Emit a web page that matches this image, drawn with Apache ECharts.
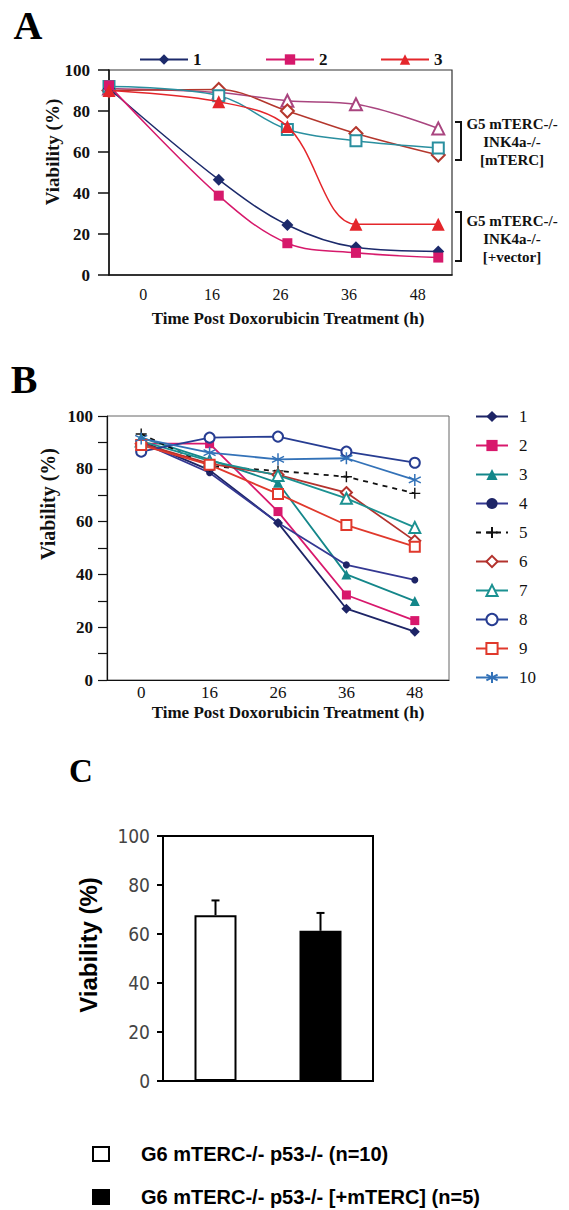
<!DOCTYPE html>
<html><head><meta charset="utf-8">
<script src="https://cdn.jsdelivr.net/npm/echarts@6/dist/echarts.min.js"></script>
<style>html,body{margin:0;padding:0;background:#fff}#c{width:569px;height:1210px}</style>
</head><body><div id="c"></div>
<script>
// ---------- data ----------
const timeLabels = ['0', '16', '26', '36', '48'];
const timeHours = [0, 16, 26, 36, 48];

// Panel A (G5 mTERC-/- INK4a-/-)
const a1 = [91, 46.5, 24.4, 13.5, 11.5];     // +vector, filled diamond
const a2 = [92.5, 38.7, 15.5, 10.8, 8.5];    // +vector, filled square
const a3 = [90, 84.5, 72.5, 24.8, 24.8];     // +vector, filled triangle
const a4 = [91, 89, 85, 83.3, 71.5];         // [mTERC], open triangle
const a5 = [90, 90.5, 80, 69, 58.5];         // [mTERC], open diamond
const a6 = [92, 87.5, 71, 65.5, 62];         // [mTERC], open square

// Panel B
const b1 = [90.5, 79.5, 59.5, 27, 18.3];
const b2 = [89.5, 89.5, 63.8, 32.2, 22.5];
const b3 = [91.8, 83.5, 74.7, 40, 29.9];
const b4 = [90, 78.5, 59.6, 43.6, 37.9];
const b5 = [93.2, 81, 79.2, 77, 70.7];
const b6 = [89.5, 82, 77.7, 71, 52.7];
const b7 = [90.5, 83, 77.5, 68.8, 57.8];
const b8 = [86.5, 91.8, 92.2, 86.5, 82.3];
const b9 = [89, 81.5, 70.5, 58.7, 50.5];
const b10 = [91.5, 86.1, 83.6, 84, 75.8];

// Panel C
const cCategories = ['G6 mTERC-/- p53-/- (n=10)', 'G6 mTERC-/- p53-/- [+mTERC] (n=5)'];
const cMeans = [67.7, 61.3];
const cErrors = [6.0, 7.3];

// ---------- styling ----------
const SERIF = "'Liberation Serif','Times New Roman',serif";
const SANS = "'Liberation Sans',Arial,sans-serif";
const PLUS = 'path://M0,5L10,5M5,0L5,10';
const STAR = 'path://M5,0L5,10M0.7,2.5L9.3,7.5M0.7,7.5L9.3,2.5';

function pairs(vals) { return vals.map((v, i) => [timeHours[i], v]); }

function aLine(name, vals, color, symbol, size, hollow) {
  return {
    name, type: 'line', xAxisIndex: 1, yAxisIndex: 0, data: pairs(vals),
    smooth: 0.35, symbol, symbolSize: size, showSymbol: true,
    lineStyle: { color, width: 1.5 },
    itemStyle: hollow ? { color, borderColor: color, borderWidth: 1.3 } : { color, borderColor: color, borderWidth: 0 },
    emphasis: { disabled: true }, z: hollow ? 3 : 4
  };
}
function bLine(name, vals, color, symbol, size, hollow, extra) {
  const s = {
    name, type: 'line', xAxisIndex: 2, yAxisIndex: 1, data: vals,
    symbol, symbolSize: size, showSymbol: true,
    lineStyle: { color, width: 1.8 },
    itemStyle: hollow ? { color, borderColor: color, borderWidth: 1.3 } : { color, borderColor: color, borderWidth: 0 },
    emphasis: { disabled: true }
  };
  return Object.assign(s, extra || {});
}

const series = [
  aLine('A1', a1, '#1c2a6b', 'diamond', 12, false),
  aLine('A2', a2, '#d6196b', 'rect', 10, false),
  aLine('A3', a3, '#e4262b', 'triangle', 13, false),
  aLine('A4', a4, '#a9457f', 'emptyTriangle', 12, true),
  aLine('A5', a5, '#b4372d', 'emptyDiamond', 13, true),
  aLine('A6', a6, '#2a8f9f', 'emptyRect', 11, true),

  bLine('B1', b1, '#1d2466', 'diamond', 10, false),
  bLine('B2', b2, '#d8186c', 'rect', 9, false),
  bLine('B3', b3, '#14878a', 'triangle', 10, false),
  bLine('B4', b4, '#343892', 'circle', 7, false, { itemStyle: { color: '#1d2466' } }),
  bLine('B5', b5, '#111111', PLUS, 11, false, {
    lineStyle: { color: '#111', width: 1.8, type: [5, 5] },
    itemStyle: { color: 'transparent', borderColor: '#111', borderWidth: 1.4 }
  }),
  bLine('B6', b6, '#b3322d', 'emptyDiamond', 11, true),
  bLine('B7', b7, '#1b9191', 'emptyTriangle', 11, true),
  bLine('B8', b8, '#273d92', 'emptyCircle', 10, true),
  bLine('B9', b9, '#e0392c', 'emptyRect', 10, true),
  bLine('B10', b10, '#3372b8', STAR, 12, false, {
    itemStyle: { color: 'transparent', borderColor: '#3372b8', borderWidth: 1.5 }
  }),

  {
    name: cCategories[0], type: 'bar', xAxisIndex: 3, yAxisIndex: 2,
    data: [cMeans[0], '-'], barWidth: 42, barGap: '-100%',
    itemStyle: { color: '#fff', borderColor: '#000', borderWidth: 2 }, emphasis: { disabled: true }
  },
  {
    name: cCategories[1], type: 'bar', xAxisIndex: 3, yAxisIndex: 2,
    data: ['-', cMeans[1]], barWidth: 42, barGap: '-100%',
    itemStyle: { color: '#000', borderColor: '#000', borderWidth: 2 }, emphasis: { disabled: true }
  },
  {
    name: 'err', type: 'custom', xAxisIndex: 3, yAxisIndex: 2,
    data: cMeans.map((m, i) => [i, m, m + cErrors[i]]),
    encode: { x: 0, y: [1, 2] }, z: 10,
    renderItem: function (params, api) {
      const x = api.value(0);
      const p0 = api.coord([x, api.value(1)]);
      const p1 = api.coord([x, api.value(2)]);
      return {
        type: 'group', children: [
          { type: 'line', shape: { x1: p0[0], y1: p0[1], x2: p1[0], y2: p1[1] }, style: { stroke: '#000', lineWidth: 2 } },
          { type: 'line', shape: { x1: p1[0] - 4, y1: p1[1], x2: p1[0] + 4, y2: p1[1] }, style: { stroke: '#000', lineWidth: 2 } }
        ]
      };
    }
  }
];

const legendA = (name, left) => ({
  data: [name], left, top: 46, itemWidth: 48, itemHeight: 13, selectedMode: false,
  formatter: n => n.slice(1),
  textStyle: { fontFamily: SERIF, fontWeight: 'bold', fontSize: 17, color: '#111' }
});

const option = {
  backgroundColor: '#fff',
  animation: false,
  grid: [
    { left: 109, top: 70, width: 343, height: 205, show: true, borderColor: '#333', borderWidth: 1.2, backgroundColor: '#fff' },
    { left: 107, top: 416, width: 342, height: 264, show: true, borderColor: '#666', borderWidth: 1, backgroundColor: '#fff' },
    { left: 163, top: 836, width: 210, height: 245, show: true, borderColor: '#000', borderWidth: 2, backgroundColor: '#fff' }
  ],
  xAxis: [
    {
      type: 'category', gridIndex: 0, data: timeLabels, boundaryGap: true,
      axisLine: { lineStyle: { color: '#111', width: 1.5 } },
      axisTick: { length: 8, lineStyle: { color: '#111', width: 1.5 } },
      axisLabel: { fontFamily: SERIF, fontSize: 16, color: '#111', margin: 11 },
      splitLine: { show: false }
    },
    { type: 'value', gridIndex: 0, min: 0, max: 50, show: false },
    {
      type: 'category', gridIndex: 1, data: timeLabels, boundaryGap: true,
      axisLine: { lineStyle: { color: '#111', width: 1.2 } },
      axisTick: { length: 6, lineStyle: { color: '#111', width: 1.2 } },
      axisLabel: { fontFamily: SERIF, fontSize: 17, color: '#111', margin: 4 },
      splitLine: { show: false }
    },
    {
      type: 'category', gridIndex: 2, data: cCategories,
      axisLine: { lineStyle: { color: '#000', width: 2 } },
      axisTick: { length: 6, lineStyle: { color: '#000', width: 2 } },
      axisLabel: { show: false }, splitLine: { show: false }
    }
  ],
  yAxis: [
    {
      type: 'value', gridIndex: 0, min: 0, max: 100, interval: 20,
      axisLine: { show: true, lineStyle: { color: '#111', width: 1.5 } },
      axisTick: { show: true, length: 11, lineStyle: { color: '#111', width: 1.5 } },
      axisLabel: { fontFamily: SERIF, fontWeight: 'bold', fontSize: 17, color: '#111', margin: 19 },
      splitLine: { show: false }
    },
    {
      type: 'value', gridIndex: 1, min: 0, max: 100, interval: 10,
      axisLine: { show: true, lineStyle: { color: '#111', width: 1.2 } },
      axisTick: { show: true, length: 9, lineStyle: { color: '#111', width: 1.2 } },
      axisLabel: {
        fontFamily: SERIF, fontWeight: 'bold', fontSize: 17, color: '#111', margin: 14,
        formatter: v => (v % 20 === 0 ? String(v) : '')
      },
      splitLine: { show: false }
    },
    {
      type: 'value', gridIndex: 2, min: 0, max: 100, interval: 20,
      axisLine: { show: true, lineStyle: { color: '#000', width: 2 } },
      axisTick: { show: true, length: 6, lineStyle: { color: '#000', width: 2 } },
      axisLabel: { fontFamily: "'Liberation Sans Narrow','DejaVu Sans Condensed',Roboto,sans-serif", fontWeight: 300, fontSize: 19, color: '#444', margin: 13 },
      splitLine: { show: false }
    }
  ],
  legend: [
    legendA('A1', 134),
    legendA('A2', 260),
    legendA('A3', 375),
    {
      data: ['B1', 'B2', 'B3', 'B4', 'B5', 'B6', 'B7', 'B8', 'B9', 'B10'],
      orient: 'vertical', left: 470, top: 403, itemWidth: 32, itemHeight: 14, itemGap: 12,
      selectedMode: false, formatter: n => n.slice(1),
      textStyle: { fontFamily: SERIF, fontSize: 17, lineHeight: 17, color: '#111', padding: [0, 0, 0, 6] }
    },
    {
      data: cCategories, orient: 'vertical', left: 92, top: 1144, height: 120, padding: 0,
      itemWidth: 16, itemHeight: 14, itemGap: 23,
      selectedMode: false, icon: 'rect',
      textStyle: { fontFamily: SANS, fontWeight: 'bold', fontSize: 20, lineHeight: 16, color: '#000', padding: [0, 0, 0, 27] }
    }
  ],
  graphic: [
    { type: 'text', x: 28, y: 25, style: { text: 'A', font: "bold 40px 'Liberation Serif',serif", fill: '#000', textAlign: 'center', textVerticalAlign: 'middle' } },
    { type: 'text', x: 24, y: 379, style: { text: 'B', font: "bold 40px 'Liberation Serif',serif", fill: '#000', textAlign: 'center', textVerticalAlign: 'middle' } },
    { type: 'text', x: 81, y: 771, style: { text: 'C', font: "bold 33px 'Liberation Serif',serif", fill: '#000', textAlign: 'center', textVerticalAlign: 'middle' } },

    { type: 'text', x: 52, y: 152, rotation: Math.PI / 2, style: { text: 'Viability (%)', font: "bold 19px 'Liberation Serif',serif", fill: '#111', textAlign: 'center', textVerticalAlign: 'middle' } },
    { type: 'text', x: 288, y: 318, style: { text: 'Time Post Doxorubicin Treatment (h)', font: "bold 17px 'Liberation Serif',serif", fill: '#111', textAlign: 'center', textVerticalAlign: 'middle' } },
    { type: 'text', x: 48, y: 504, rotation: Math.PI / 2, style: { text: 'Viability (%)', font: "bold 20px 'Liberation Serif',serif", fill: '#111', textAlign: 'center', textVerticalAlign: 'middle' } },
    { type: 'text', x: 288, y: 712, style: { text: 'Time Post Doxorubicin Treatment (h)', font: "bold 17px 'Liberation Serif',serif", fill: '#111', textAlign: 'center', textVerticalAlign: 'middle' } },
    { type: 'text', x: 88, y: 945, rotation: Math.PI / 2, style: { text: 'Viability (%)', font: "bold 24px 'Liberation Sans',Arial,sans-serif", fill: '#000', textAlign: 'center', textVerticalAlign: 'middle' } },

    { type: 'polyline', shape: { points: [[455, 122], [461, 122], [461, 160], [455, 160]] }, style: { stroke: '#111', lineWidth: 2, fill: null } },
    { type: 'polyline', shape: { points: [[455, 212], [461, 212], [461, 261], [455, 261]] }, style: { stroke: '#111', lineWidth: 2, fill: null } },
    { type: 'text', x: 512, y: 124, style: { text: 'G5 mTERC-/-', font: "bold 15px 'Liberation Serif',serif", fill: '#111', textAlign: 'center', textVerticalAlign: 'middle' } },
    { type: 'text', x: 512, y: 142, style: { text: 'INK4a-/-', font: "bold 15px 'Liberation Serif',serif", fill: '#111', textAlign: 'center', textVerticalAlign: 'middle' } },
    { type: 'text', x: 512, y: 160, style: { text: '[mTERC]', font: "bold 15px 'Liberation Serif',serif", fill: '#111', textAlign: 'center', textVerticalAlign: 'middle' } },
    { type: 'text', x: 512, y: 221, style: { text: 'G5 mTERC-/-', font: "bold 15px 'Liberation Serif',serif", fill: '#111', textAlign: 'center', textVerticalAlign: 'middle' } },
    { type: 'text', x: 512, y: 239, style: { text: 'INK4a-/-', font: "bold 15px 'Liberation Serif',serif", fill: '#111', textAlign: 'center', textVerticalAlign: 'middle' } },
    { type: 'text', x: 512, y: 257, style: { text: '[+vector]', font: "bold 15px 'Liberation Serif',serif", fill: '#111', textAlign: 'center', textVerticalAlign: 'middle' } }
  ],
  series
};

const chart = echarts.init(document.getElementById('c'), null, { renderer: 'svg' });
chart.setOption(option);
</script>
</body></html>
